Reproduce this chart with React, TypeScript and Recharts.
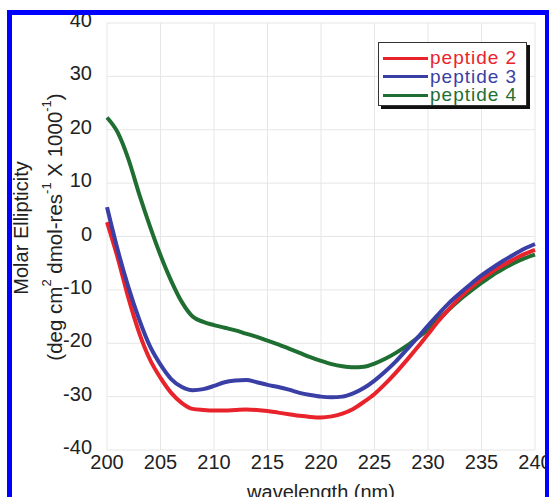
import React from "react";
import { LineChart, Line, XAxis, YAxis, CartesianGrid, Legend, Label } from "recharts";

// CD spectra of the three peptides (x 10^3 units).
const wavelengths = [
  200, 201, 202, 203, 204, 205, 206, 207, 208, 209, 210, 211, 212, 213, 214, 215, 216, 217, 218, 219, 220,
  221, 222, 223, 224, 225, 226, 227, 228, 229, 230, 231, 232, 233, 234, 235, 236, 237, 238, 239, 240,
];

const peptide2 = [
  2.7, -4, -11.5, -18, -23, -26.5, -29.3, -31.2, -32.3, -32.5, -32.6, -32.6, -32.5, -32.4, -32.5, -32.7, -33,
  -33.3, -33.6, -33.8, -33.9, -33.7, -33.2, -32.3, -31, -29.5, -27.6, -25.5, -23.2, -20.8, -18.3, -15.8, -13.5,
  -11.4, -9.6, -8, -6.6, -5.4, -4.3, -3.3, -2.5,
];

const peptide3 = [
  5.5, -2.5, -9.5, -15.5, -20.5, -24, -26.7, -28.2, -28.8, -28.6, -28, -27.3, -27, -26.9, -27.3, -27.8, -28.2,
  -28.7, -29.3, -29.7, -30, -30.1, -30, -29.4, -28.4, -27, -25.3, -23.4, -21.2, -19, -16.7, -14.5, -12.4, -10.6,
  -8.9, -7.3, -5.9, -4.6, -3.4, -2.3, -1.4,
];

const peptide4 = [
  22.3, 19.5, 14.5, 8, 2, -3.5, -8.3, -12.3, -15, -16, -16.6, -17.1, -17.6, -18.2, -18.8, -19.5, -20.2, -21,
  -21.8, -22.6, -23.3, -23.9, -24.3, -24.5, -24.4, -23.8, -22.9, -21.8, -20.5, -19, -17.4, -15.5, -13.6, -11.8,
  -10.2, -8.7, -7.3, -6.1, -5, -4.1, -3.4,
];

const xTicks = [200, 205, 210, 215, 220, 225, 230, 235, 240];
const yTicks = [-40, -30, -20, -10, 0, 10, 20, 30, 40];

const series = [
  { key: "p4", name: "peptide 4", color: "#1f6e32", values: peptide4 },
  { key: "p2", name: "peptide 2", color: "#e8232b", values: peptide2 },
  { key: "p3", name: "peptide 3", color: "#3a3fa6", values: peptide3 },
];

const data = wavelengths.map((w, i) => {
  const row: Record<string, number> = { wavelength: w };
  for (const s of series) row[s.key] = s.values[i];
  return row;
});

const FONT = '"Liberation Sans", Arial, Helvetica, sans-serif';

// y tick labels sit a touch above their gridlines in the original
function YTick({ x, y, payload }: any) {
  return (
    <text x={x} y={y - 3} textAnchor="end" dominantBaseline="central" fill="#222" fontSize={20} fontFamily={FONT}>
      {payload.value}
    </text>
  );
}

function YTitle() {
  return (
    <g fontFamily={FONT} fontSize={20} fill="#222">
      <text x={21} y={228} textAnchor="middle" dominantBaseline="central" transform="rotate(-90, 21, 228)">
        Molar Ellipticity
      </text>
      <text x={54} y={227} textAnchor="middle" dominantBaseline="central" fontSize={20.5} transform="rotate(-90, 54, 227)">
        (deg cm
        <tspan dy={-8} fontSize={13}>2</tspan>
        <tspan dy={8}> dmol-res</tspan>
        <tspan dy={-8} fontSize={13}>-1</tspan>
        <tspan dy={8}> X 1000</tspan>
        <tspan dy={-8} fontSize={13}>-1</tspan>
        <tspan dy={8}>)</tspan>
      </text>
    </g>
  );
}

function LegendBox({ payload }: any) {
  const items = [...(payload || [])].sort((a: any, b: any) => String(a.value).localeCompare(String(b.value)));
  return (
    <div
      style={{
        boxSizing: "border-box",
        width: 149,
        height: 64,
        border: "1px solid #333",
        boxShadow: "3px 3px 0 #111",
        background: "#fff",
        paddingTop: 6,
        paddingLeft: 4,
        fontFamily: FONT,
      }}
    >
      {items.map((it: any) => (
        <div key={it.value} style={{ display: "flex", alignItems: "center", height: 18.5 }}>
          <span style={{ display: "inline-block", width: 45, height: 3, background: it.color, marginRight: 2 }} />
          <span style={{ color: it.color, fontSize: 19, letterSpacing: 1, lineHeight: "18px" }}>{it.value}</span>
        </div>
      ))}
    </div>
  );
}

export default function App() {
  return (
    <div style={{ position: "absolute", left: 0, top: 0, width: 549, height: 497, background: "#fff", overflow: "hidden" }}>
      <LineChart width={549} height={497} data={data} margin={{ top: 23, right: 14, bottom: 0, left: 0 }}>
        <CartesianGrid stroke="#e6e6e6" strokeWidth={1} />
        <XAxis
          dataKey="wavelength"
          type="number"
          domain={[200, 240]}
          ticks={xTicks}
          height={47}
          axisLine={false}
          tickLine={false}
          tickSize={0}
          tickMargin={5}
          interval={0}
          tick={{ fill: "#222", fontSize: 20, fontFamily: FONT }}
        >
          <Label value="wavelength (nm)" position="insideBottom" offset={-2} fill="#222" fontSize={20} fontFamily={FONT} />
        </XAxis>
        <YAxis
          type="number"
          domain={[-40, 40]}
          ticks={yTicks}
          width={107}
          axisLine={false}
          tickLine={false}
          tickSize={0}
          tickMargin={15}
          interval={0}
          tick={<YTick />}
        >
          <Label content={() => <YTitle />} />
        </YAxis>
        <Legend
          layout="vertical"
          align="center"
          verticalAlign="middle"
          content={<LegendBox />}
          wrapperStyle={{ left: 378, top: 42, width: 152, height: 68 }}
        />
        {series.map((s) => (
          <Line
            key={s.key}
            dataKey={s.key}
            name={s.name}
            type="monotone"
            stroke={s.color}
            strokeWidth={4}
            dot={false}
            isAnimationActive={false}
          />
        ))}
      </LineChart>
      <div
        style={{
          position: "absolute",
          left: 7,
          top: 10,
          width: 543,
          height: 500,
          boxSizing: "border-box",
          border: "5px solid #0000ff",
          pointerEvents: "none",
          zIndex: 5,
        }}
      />
    </div>
  );
}
